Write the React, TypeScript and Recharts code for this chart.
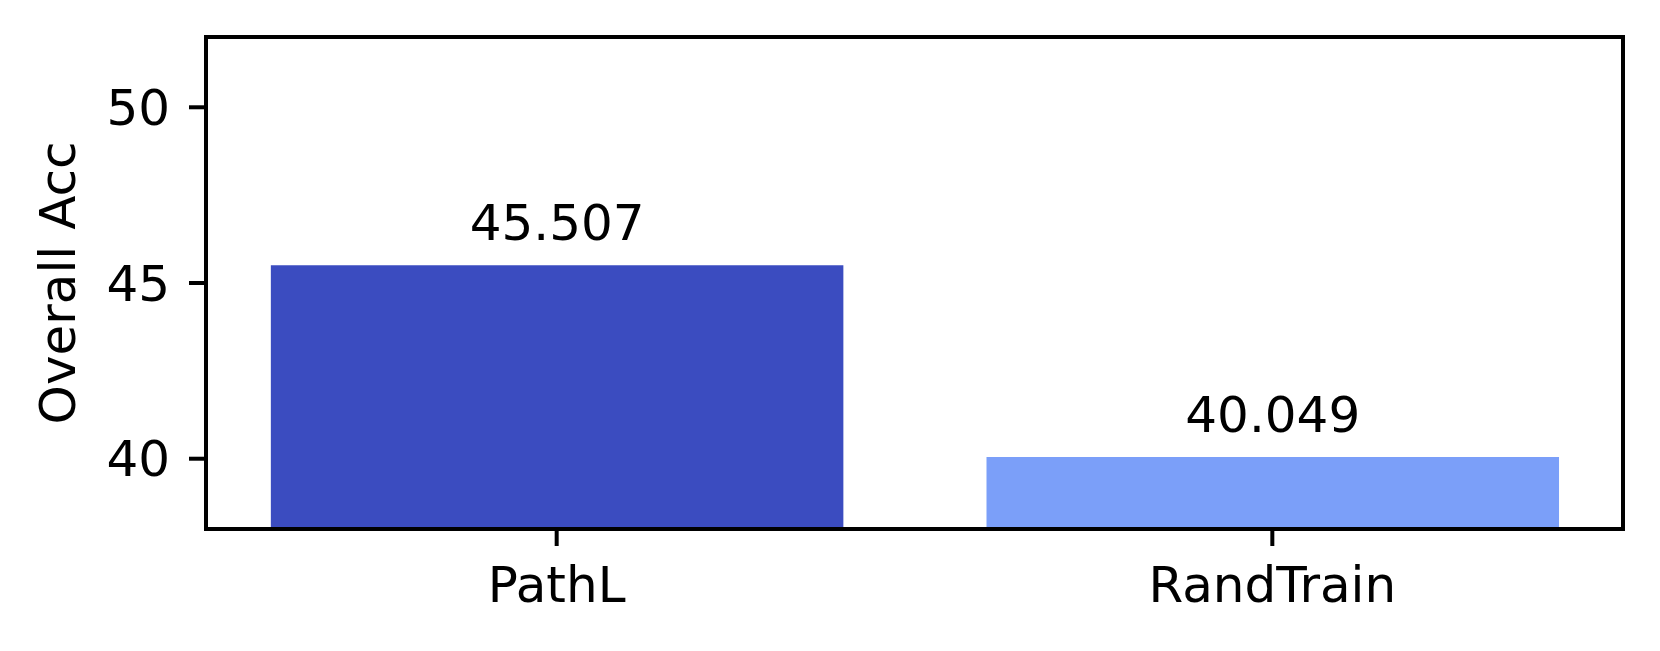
import React from 'react';
import { BarChart, Bar, XAxis, YAxis, Cell, LabelList, ReferenceArea } from 'recharts';

const categories = ['PathL', 'RandTrain'];
const values = [45.507, 40.049];
const colors = ['#3b4cc0', '#7b9ff9'];
const yTicks = [40, 45, 50];
const yDomain: [number, number] = [38, 52];
const xDomain: [number, number] = [-0.49, 1.49];

const data = categories.map((name, i) => ({ x: i, name, value: values[i] }));

const W = 1660;
const H = 651;
const margin = { top: 37, right: 37, bottom: 62, left: 0 };
const yAxisWidth = 206;
const xAxisHeight = 60;
const plotWidth = W - margin.left - margin.right - yAxisWidth;
const barSize = (0.8 * plotWidth) / (xDomain[1] - xDomain[0]);

const font = 'DejaVu Sans, sans-serif';
const tickStyle = { fontFamily: font, fontSize: 50, fill: '#000' };
const LW = 4;

const ValueLabel = (props: any) => {
  const { x, y, width, value } = props;
  return (
    <text
      x={Number(x) + Number(width) / 2}
      y={Number(y) - 25}
      textAnchor="middle"
      fontFamily={font}
      fontSize={50}
      fill="#000"
    >
      {Number(value).toFixed(3)}
    </text>
  );
};

const YLabel = (props: any) => {
  const vb = props.viewBox || { x: 0, y: 0, width: 0, height: 0 };
  const cx = vb.x + 75;
  const cy = vb.y + vb.height / 2;
  return (
    <text
      x={cx}
      y={cy}
      transform={`rotate(-90, ${cx}, ${cy})`}
      textAnchor="middle"
      fontFamily={font}
      fontSize={50}
      fill="#000"
    >
      Overall Acc
    </text>
  );
};

export default function App() {
  return (
    <div style={{ position: 'absolute', left: 0, top: 0, width: W, height: H, background: '#fff' }}>
      <BarChart width={W} height={H} data={data} margin={margin}>
        <XAxis
          xAxisId="main"
          dataKey="x"
          type="number"
          domain={xDomain}
          allowDataOverflow
          ticks={[0, 1]}
          tickFormatter={(v: number) => categories[v] ?? ''}
          height={xAxisHeight}
          tick={tickStyle}
          tickSize={17}
          tickMargin={20}
          tickLine={{ stroke: '#000', strokeWidth: LW }}
          axisLine={{ stroke: '#000', strokeWidth: LW }}
          interval={0}
        />
        <YAxis
          yAxisId="main"
          type="number"
          domain={yDomain}
          allowDataOverflow
          ticks={yTicks}
          width={yAxisWidth}
          tick={tickStyle}
          tickSize={17}
          tickMargin={19}
          tickLine={{ stroke: '#000', strokeWidth: LW }}
          axisLine={{ stroke: '#000', strokeWidth: LW }}
          label={<YLabel />}
        />
        <Bar
          xAxisId="main"
          yAxisId="main"
          dataKey="value"
          barSize={barSize}
          isAnimationActive={false}
        >
          {data.map((d, i) => (
            <Cell key={d.name} fill={colors[i]} />
          ))}
          <LabelList dataKey="value" content={<ValueLabel />} />
        </Bar>
        <ReferenceArea
          xAxisId="main"
          yAxisId="main"
          x1={xDomain[0]}
          x2={xDomain[1]}
          y1={yDomain[0]}
          y2={yDomain[1]}
          fill="none"
          fillOpacity={0}
          stroke="#000"
          strokeWidth={LW}
          strokeOpacity={1}
          ifOverflow="visible"
        />
      </BarChart>
    </div>
  );
}
